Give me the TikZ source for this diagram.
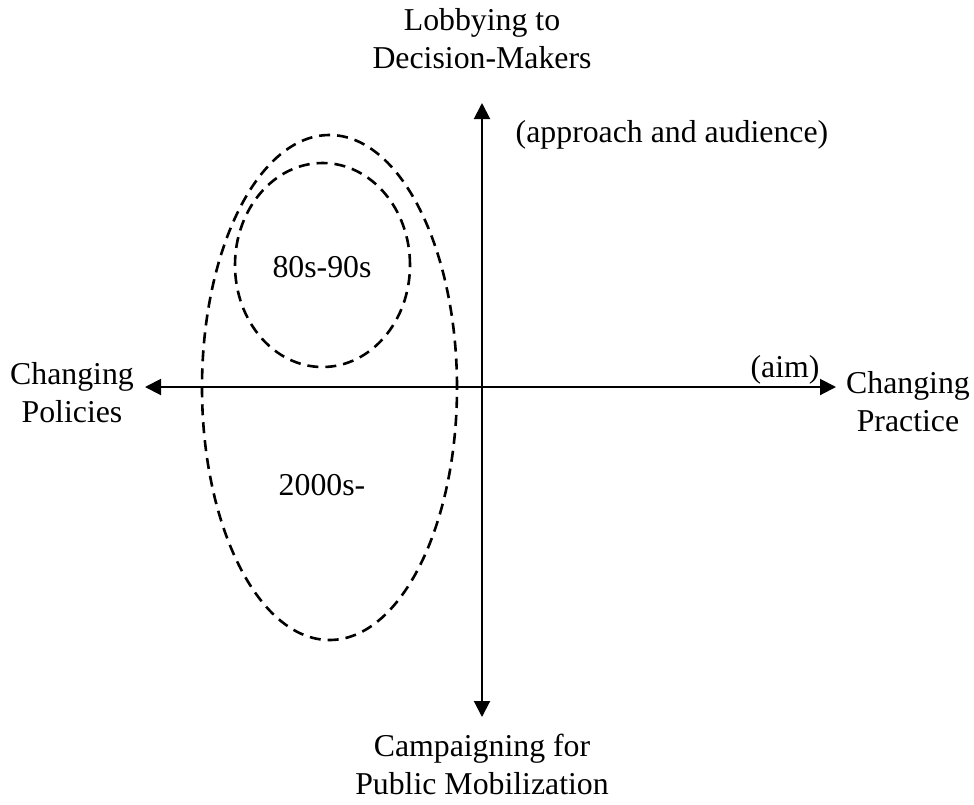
\documentclass[tikz,border=0pt]{standalone}
\usepackage{fontspec}
\setmainfont{Liberation Serif}
\usetikzlibrary{arrows.meta}
\begin{document}
\begin{tikzpicture}[x=0.5pt,y=-0.5pt,
  lbl/.style={font=\fontsize{15.9}{19}\selectfont, align=center, inner sep=0pt},
  axis/.style={line width=1pt, {Triangle[width=8pt,length=8pt]}-{Triangle[width=8pt,length=8pt]}},
  era/.style={draw, line width=1.3pt, dash pattern=on 5.5pt off 3.5pt}]
\useasboundingbox (0,0) rectangle (974,804);
\coordinate (top) at (482,103);
\coordinate (bot) at (482,717);
\coordinate (lft) at (145,387);
\coordinate (rgt) at (836,387);
\draw[axis] (bot) -- (top);
\draw[axis] (lft) -- (rgt);
\draw[era] (329.5,387.5) ellipse [x radius=127.5*0.5pt, y radius=252.5*0.5pt];
\draw[era] (322.5,265) ellipse [x radius=87.5*0.5pt, y radius=102*0.5pt];
\node[lbl] (lobby) at (482,39) {Lobbying to\\Decision-Makers};
\node[lbl] (appr) at (672,135) {(approach and audience)};
\node[lbl] (pol) at (72,393) {Changing\\Policies};
\node[lbl] (aim) at (785,370) {(aim)};
\node[lbl] (prac) at (908,402) {Changing\\Practice};
\node[lbl] (e1) at (322,267) {80s-90s};
\node[lbl] (e2) at (322,485) {2000s-};
\node[lbl] (camp) at (482,764) {Campaigning for\\Public Mobilization};
\end{tikzpicture}
\end{document}
